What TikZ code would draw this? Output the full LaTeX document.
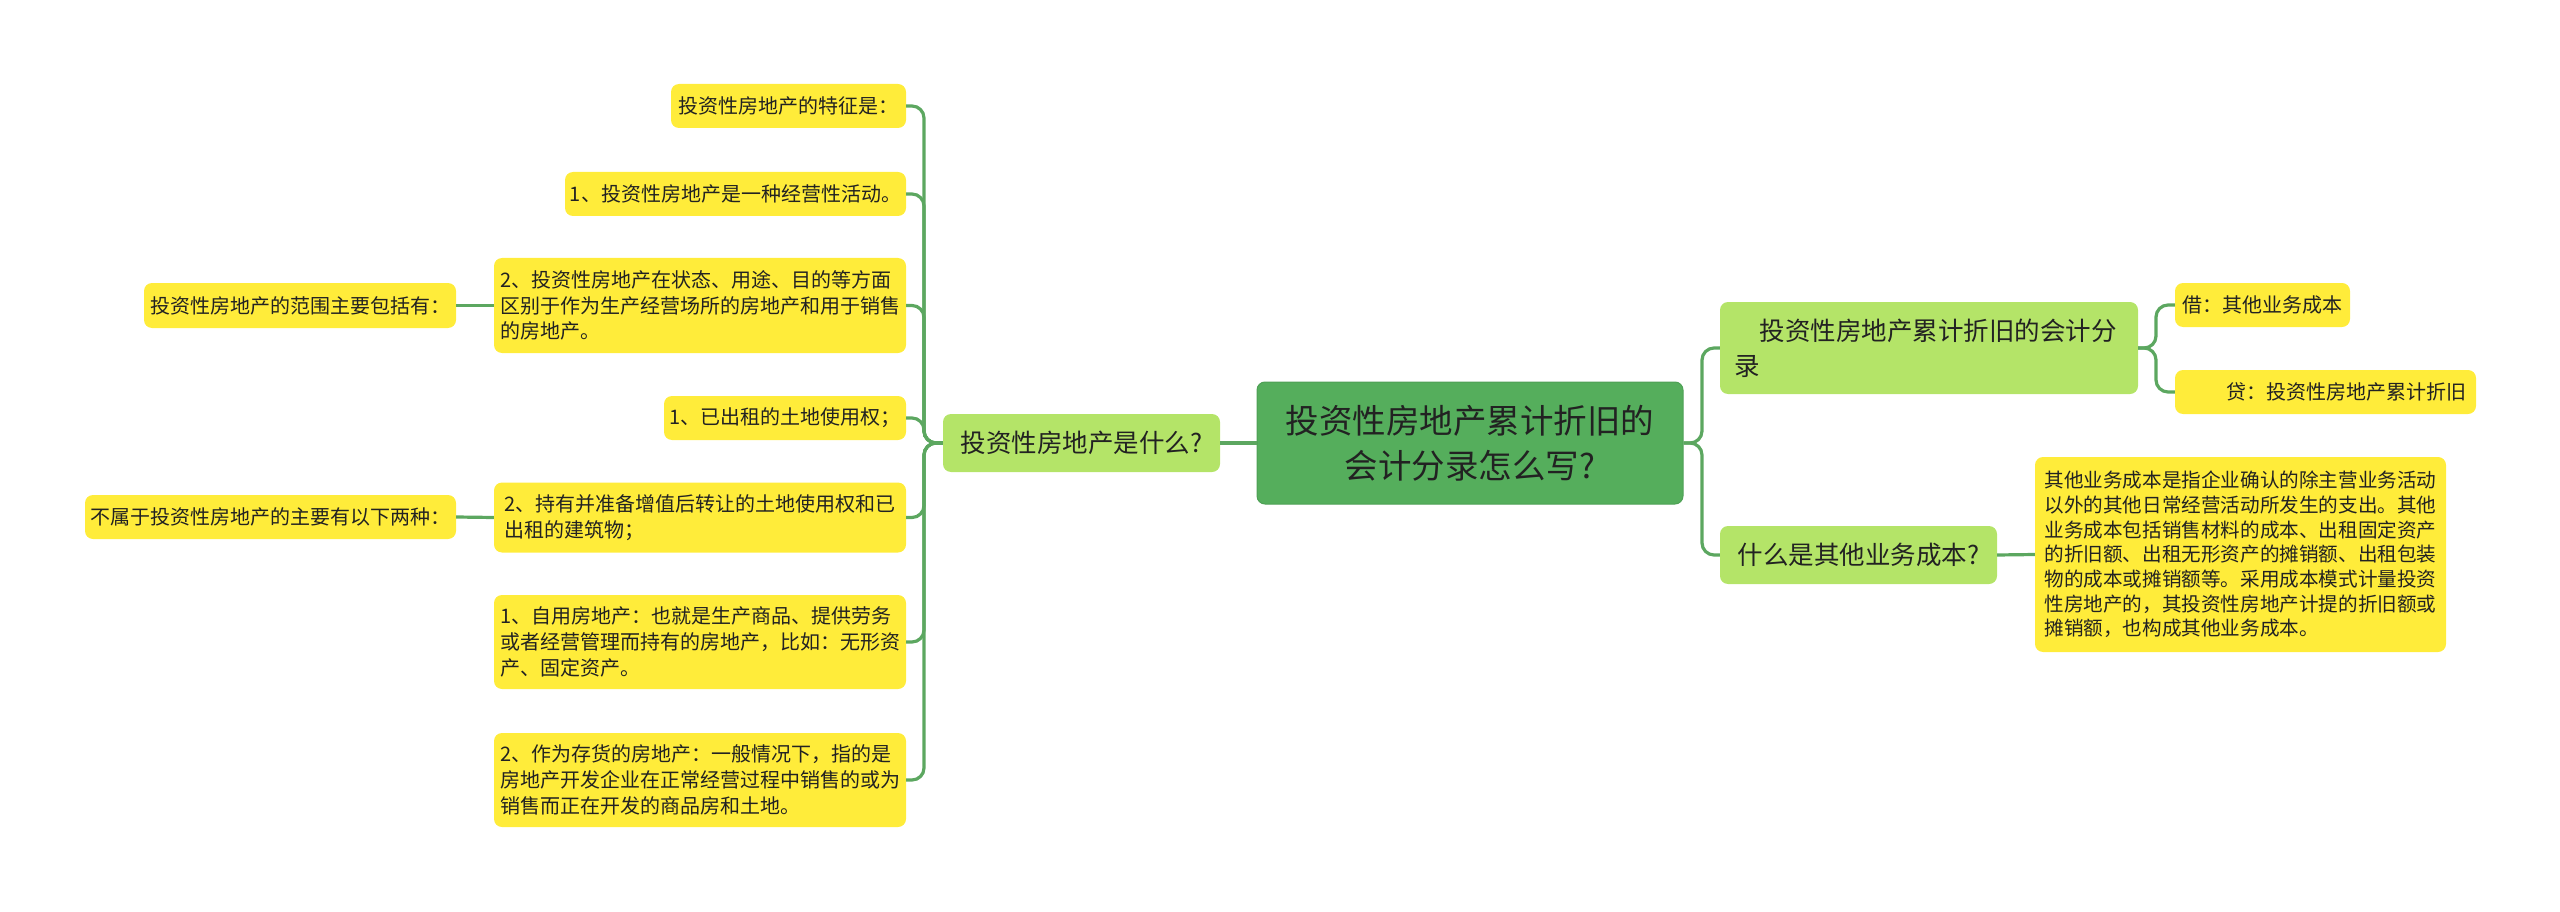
\documentclass[tikz,border=0pt]{standalone}
\usepackage{fontspec}
\setmainfont{Noto Sans CJK SC}
\definecolor{leafY}{HTML}{FFEC3A}
\definecolor{lgreen}{HTML}{B4E468}
\definecolor{rgreen}{HTML}{55AE5C}
\definecolor{lineG}{HTML}{5CA760}
\definecolor{txt}{HTML}{222222}
\tikzset{
  box/.style={rounded corners=8pt, inner sep=0pt, text=txt, align=left},
  leaf/.style={box, fill=leafY, font=\fontsize{20}{25.8}\selectfont},
  lvone/.style={box, fill=lgreen, font=\fontsize{25.5}{35}\selectfont},
  rootbox/.style={box, fill=rgreen, draw=rgreen!92!black, line width=1pt, align=center, font=\fontsize{33.5}{45}\selectfont},
  conn/.style={draw=lineG, line width=3.2pt, rounded corners=12pt}
}
\begin{document}
\begin{tikzpicture}[x=1pt,y=-1pt]
\useasboundingbox (0,0) rectangle (2560,912);
% root
\node[rootbox, minimum width=426pt, minimum height=122pt] (root) at (1470,443) {投资性房地产累计折旧的\\会计分录怎么写?};
% left level 1
\node[lvone, minimum width=277pt, minimum height=58pt] (L1) at (1081.5,443) {投资性房地产是什么?};
% left leaves
\node[leaf, minimum width=235pt, minimum height=44pt] (a1) at (788.5,106) {投资性房地产的特征是：};
\node[leaf, minimum width=341pt, minimum height=44pt] (a2) at (735.5,194) {1、投资性房地产是一种经营性活动。};
\node[leaf, minimum width=412pt, minimum height=95pt] (a3) at (700,305.5) {2、投资性房地产在状态、用途、目的等方面\\区别于作为生产经营场所的房地产和用于销售\\的房地产。};
\node[leaf, minimum width=242pt, minimum height=44pt] (a4) at (785,418) {1、已出租的土地使用权；};
\node[leaf, minimum width=412pt, minimum height=70pt] (a5) at (700,517.5) {2、持有并准备增值后转让的土地使用权和已\\出租的建筑物；};
\node[leaf, minimum width=412pt, minimum height=94pt] (a6) at (700,642) {1、自用房地产：也就是生产商品、提供劳务\\或者经营管理而持有的房地产，比如：无形资\\产、固定资产。};
\node[leaf, minimum width=412pt, minimum height=94pt] (a7) at (700,780) {2、作为存货的房地产：一般情况下，指的是\\房地产开发企业在正常经营过程中销售的或为\\销售而正在开发的商品房和土地。};
\node[leaf, minimum width=312pt, minimum height=45pt] (b1) at (300,305.5) {投资性房地产的范围主要包括有：};
\node[leaf, minimum width=371pt, minimum height=44pt] (b2) at (270.5,517) {不属于投资性房地产的主要有以下两种：};
% right side
\node[lvone, minimum width=418pt, minimum height=92pt, text width=390pt] (r1) at (1929,348) {\hspace*{1em}投资性房地产累计折旧的会计分\\录};
\node[lvone, minimum width=277pt, minimum height=58pt] (r2) at (1858.5,555) {什么是其他业务成本?};
\node[leaf, minimum width=175pt, minimum height=44pt] (r11) at (2262.5,305) {借：其他业务成本};
\node[leaf, minimum width=301pt, minimum height=44pt, text width=281pt, align=right] (r12) at (2325.5,392) {贷：投资性房地产累计折旧};
\node[leaf, minimum width=411pt, minimum height=195pt, font=\fontsize{19.6}{24.7}\selectfont] (r21) at (2240.5,554.5) {其他业务成本是指企业确认的除主营业务活动\\以外的其他日常经营活动所发生的支出。其他\\业务成本包括销售材料的成本、出租固定资产\\的折旧额、出租无形资产的摊销额、出租包装\\物的成本或摊销额等。采用成本模式计量投资\\性房地产的，其投资性房地产计提的折旧额或\\摊销额，也构成其他业务成本。};
% junctions
\coordinate (tL) at (924,443);
\coordinate (tR) at (1702,443);
\coordinate (tR1) at (2156,348);
% connectors
\foreach \c in {a1,a2,a3,a4,a5,a6,a7}{\draw[conn] (L1.west) -- (tL) |- (\c.east);}
\draw[conn] (a3.west) -- (b1.east);
\draw[conn] (a5.west) -- (b2.east);
\draw[conn] (root.west) -- (L1.east);
\draw[conn] (root.east) -- (tR) |- (r1.west);
\draw[conn] (root.east) -- (tR) |- (r2.west);
\draw[conn] (r1.east) -- (tR1) |- (r11.west);
\draw[conn] (r1.east) -- (tR1) |- (r12.west);
\draw[conn] (r2.east) -- (r21.west);
\end{tikzpicture}
\end{document}
